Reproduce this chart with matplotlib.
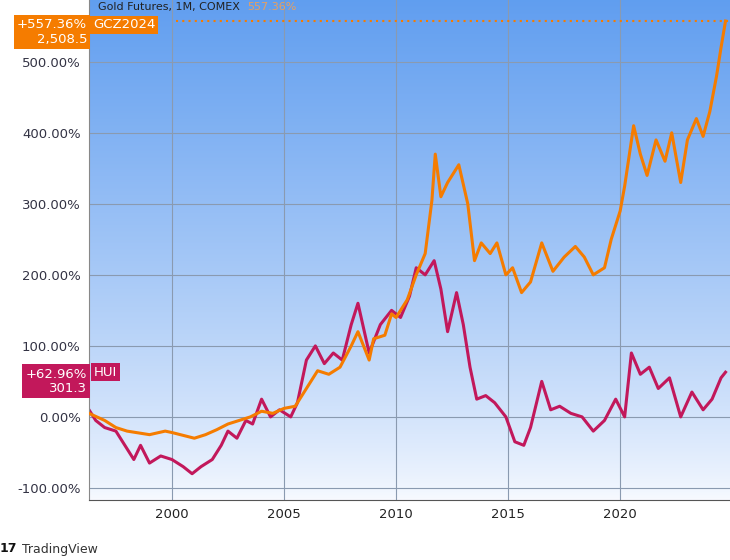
import numpy as np
import matplotlib.pyplot as plt

# gold futures, % change
gold_t = [1996.3, 1997, 1997.5, 1998, 1999, 1999.7, 2000, 2001, 2001.5, 2002, 2002.5, 2003, 2003.5,
          2004, 2004.5, 2005, 2005.5, 2006, 2006.5, 2007, 2007.5, 2008, 2008.3, 2008.8, 2009, 2009.5,
          2009.8, 2010, 2010.5, 2010.9, 2011.3, 2011.6, 2011.75, 2012, 2012.3, 2012.8, 2013.2, 2013.5,
          2013.8, 2014.2, 2014.5, 2014.9, 2015.2, 2015.6, 2016, 2016.5, 2017, 2017.5, 2018, 2018.4,
          2018.8, 2019.3, 2019.6, 2020, 2020.2, 2020.6, 2020.9, 2021.2, 2021.6, 2022, 2022.3, 2022.7,
          2023, 2023.4, 2023.7, 2024, 2024.3, 2024.5, 2024.7]
gold_v = [5, -5, -15, -20, -25, -20, -22, -30, -25, -18, -10, -5, 0,
          8, 5, 12, 15, 40, 65, 60, 70, 100, 120, 80, 110, 115,
          145, 140, 165, 200, 230, 305, 370, 310, 330, 355, 300, 220,
          245, 230, 245, 200, 210, 175, 190, 245, 205, 225, 240, 225,
          200, 210, 250, 290, 325, 410, 370, 340, 390, 360, 400, 330,
          390, 420, 395, 430, 480, 520, 557.36]

# HUI gold bugs index, % change
hui_t = [1996.3, 1996.6, 1997, 1997.5, 1998, 1998.3, 1998.6, 1999, 1999.5, 2000, 2000.5, 2000.9,
         2001.3, 2001.8, 2002.2, 2002.5, 2002.9, 2003.3, 2003.6, 2004, 2004.4, 2004.8, 2005.3, 2005.6,
         2006, 2006.4, 2006.8, 2007.2, 2007.6, 2008, 2008.3, 2008.8, 2009.3, 2009.8, 2010.2, 2010.6,
         2010.9, 2011.3, 2011.7, 2012, 2012.3, 2012.7, 2013, 2013.3, 2013.6, 2014, 2014.4, 2014.9,
         2015.3, 2015.7, 2016, 2016.5, 2016.9, 2017.3, 2017.8, 2018.3, 2018.8, 2019.3, 2019.8, 2020.2,
         2020.5, 2020.9, 2021.3, 2021.7, 2022.2, 2022.7, 2023.2, 2023.7, 2024.1, 2024.5, 2024.7]
hui_v = [10, -5, -15, -20, -45, -60, -40, -65, -55, -60, -70, -80,
         -70, -60, -40, -20, -30, -5, -10, 25, 0, 10, 0, 20,
         80, 100, 75, 90, 80, 130, 160, 90, 130, 150, 140, 170,
         210, 200, 220, 180, 120, 175, 130, 70, 25, 30, 20, 0,
         -35, -40, -15, 50, 10, 15, 5, 0, -20, -5, 25, 0,
         90, 60, 70, 40, 55, 0, 35, 10, 25, 55, 62.96]

yticks = [-100, 0, 100, 200, 300, 400, 500]
xticks = [2000, 2005, 2010, 2015, 2020]

ORANGE = '#f57c00'
MAGENTA = '#c2185b'

fig = plt.figure(figsize=(7.3, 5.6), dpi=100)
ax = fig.add_axes([89/730, 1 - 500/560, 641/730, 500/560])
ax.set_xlim(1996.3, 2024.9)
ax.set_ylim(-117, 587)

grad = np.linspace(1, 0, 256).reshape(-1, 1)
top = np.array([0.38, 0.62, 0.94])
bot = np.array([0.97, 0.98, 1.0])
img = bot + (top - bot) * grad[..., None] ** 0.8
ax.imshow(img, extent=[0, 1, 0, 1], transform=ax.transAxes, aspect='auto', zorder=0)

for t in xticks:
    ax.axvline(t, color='#8a9ab0', lw=0.8, zorder=1)
for v in yticks:
    ax.axhline(v, color='#8a9ab0', lw=0.8, zorder=1)

ax.plot(gold_t, gold_v, color=ORANGE, lw=2.2, zorder=3)
ax.plot(hui_t, hui_v, color=MAGENTA, lw=2.2, zorder=2)
ax.plot([2000.2, 2024.9], [gold_v[-1], gold_v[-1]], color=ORANGE, lw=1.5, ls=(0, (1, 2)), zorder=2)

ax.set_yticks(yticks)
ax.set_yticklabels([f'{v:.2f}%' for v in yticks], color='#334', fontsize=9.5)
ax.set_xticks(xticks)
ax.set_xticklabels([str(t) for t in xticks], color='#222', fontsize=9.5)
ax.tick_params(length=0, pad=6)
for s in ['top', 'right']:
    ax.spines[s].set_visible(False)
ax.spines['left'].set_color('#888')
ax.spines['bottom'].set_color('#555')

# value labels on the left axis
fig.text(52/730, 1 - 32/560, '+557.36%\n2,508.5', ha='center', va='center', color='white',
         fontsize=9.5, linespacing=1.1, multialignment='right',
         bbox=dict(boxstyle='square,pad=0.25', fc=ORANGE, ec='none'))
fig.text(93/730, 1 - 25/560, 'GCZ2024', ha='left', va='center', color='white', fontsize=9.5,
         bbox=dict(boxstyle='square,pad=0.2', fc=ORANGE, ec='none'))
fig.text(98/730, 1 - 7/560, 'Gold Futures, 1M, COMEX', ha='left', va='center', color='#222', fontsize=8)
fig.text(247/730, 1 - 7/560, '557.36%', ha='left', va='center', color='#e8a060', fontsize=8)

fig.text(56/730, 1 - 381/560, '+62.96%\n301.3', ha='center', va='center', color='white',
         fontsize=9.5, linespacing=1.1, multialignment='right',
         bbox=dict(boxstyle='square,pad=0.25', fc=MAGENTA, ec='none'))
fig.text(94/730, 1 - 372/560, 'HUI', ha='left', va='center', color='white', fontsize=9.5,
         bbox=dict(boxstyle='square,pad=0.2', fc=MAGENTA, ec='none'))

fig.text(22/730, 1 - 549/560, 'TradingView', ha='left', va='center', color='#333', fontsize=9)
fig.text(0, 1 - 549/560, '17', ha='left', va='center', color='#111', fontsize=9, fontweight='bold')

fig.savefig('out.png', dpi=100)
